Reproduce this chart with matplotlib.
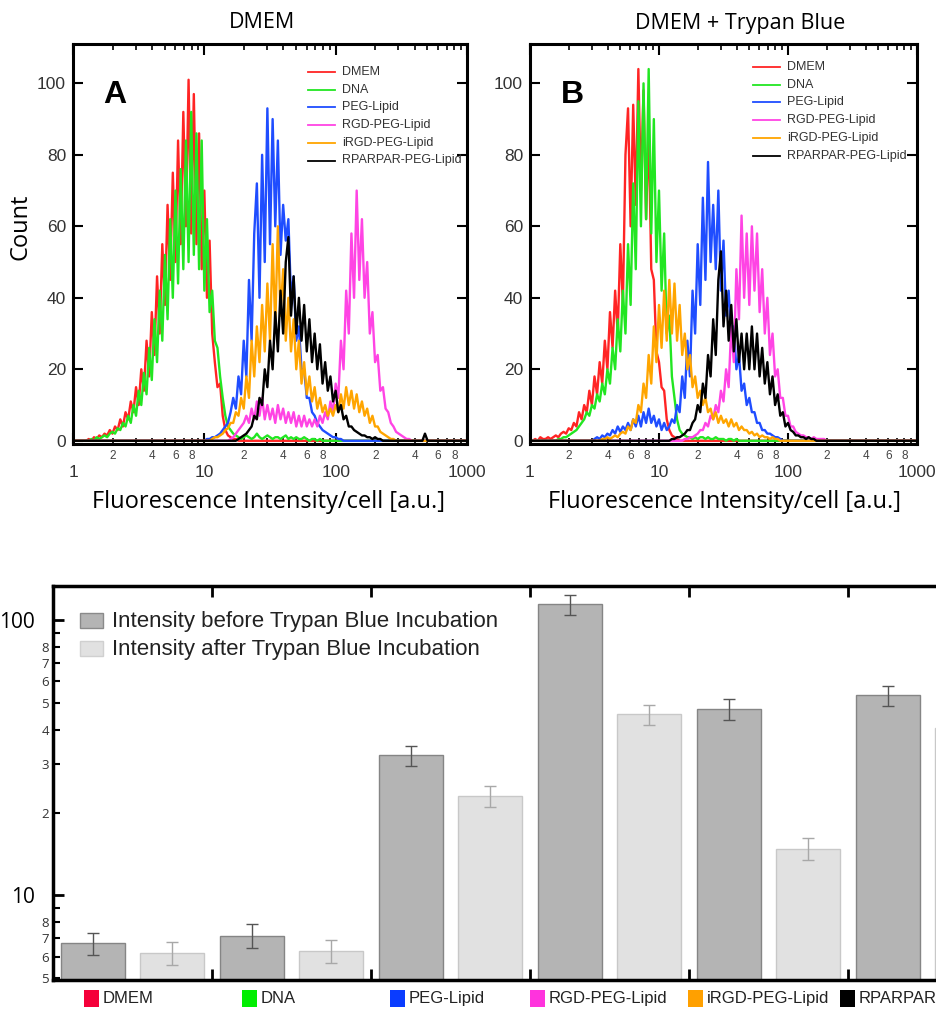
import numpy as np
import matplotlib.pyplot as plt
from matplotlib.ticker import FixedLocator, FuncFormatter, NullFormatter
from matplotlib.patches import Rectangle
from matplotlib.lines import Line2D

W, H = 936, 1009

# ---- data ----
names = ['DMEM', 'DNA', 'PEG-Lipid', 'RGD-PEG-Lipid', 'iRGD-PEG-Lipid', 'RPARPAR-PEG-Lipid']
line_colors = ['#ff2424', '#22e622', '#1f4dff', '#ff44e4', '#ffa500', '#000000']
square_colors = ['#f5003a', '#00ee00', '#0a3cff', '#ff33dd', '#ffa000', '#000000']

# histograms: log10 bin width, start of each curve (log10 of intensity) and counts
step = 0.02

a_dmem_start = 0.12
a_dmem = [0.5, 0, 1, 0.5, 1.5, 1, 2, 1.5, 3, 2,
          4, 3, 6, 4, 8, 6, 11, 8, 15, 10,
          20, 14, 28, 18, 36, 24, 46, 30, 55, 38,
          66, 45, 75, 50, 84, 55, 92, 60, 101, 58,
          97, 55, 86, 48, 70, 40, 56, 30, 22, 15,
          16, 7, 3, 1.5, 1, 0.5, 0.5, 0]
a_dna_start = 0.12
a_dna = [0, 0.5, 0, 1, 0.5, 1, 1.5, 1, 2, 2.5,
         2, 3.5, 3, 5, 4, 7, 5, 10, 7, 14,
         10, 19, 13, 26, 17, 34, 22, 42, 28, 52,
         34, 62, 40, 70, 44, 76, 48, 84, 50, 92,
         52, 86, 48, 84, 42, 62, 36, 42, 28, 26,
         18, 12, 7, 4, 3, 2, 1.5, 1, 0.5, 1,
         1.5, 1, 0.5, 1, 2, 1, 0.5, 1, 1.5, 1,
         0.5, 1, 1, 0.5, 1, 1.5, 0.5, 1, 0.5, 1,
         0.5, 0.5, 1, 0.5, 0, 0.5, 0.5, 0, 0.5, 0]
a_peg_start = 1.00
a_peg = [0, 0.5, 0.5, 1, 1, 1.5, 2, 3, 4, 5,
         8, 12, 9, 18, 13, 28, 18, 45, 28, 58,
         72, 40, 80, 50, 93, 55, 90, 60, 84, 52,
         66, 56, 62, 40, 46, 28, 32, 20, 20, 12,
         12, 8, 7, 5, 4, 3, 2.5, 2, 1.5, 1,
         1, 0.5, 0.5, 0]
a_rgd_start = 1.20
a_rgd = [0.5, 1, 2, 3, 4, 5, 7, 5, 9, 6,
         11, 7, 12, 6, 10, 6, 9, 5, 10, 6,
         9, 5, 8, 5, 8, 4, 7, 4, 7, 4,
         6, 4, 6, 4, 7, 5, 8, 6, 11, 8,
         16, 12, 28, 20, 42, 30, 58, 40, 70, 45,
         62, 40, 50, 30, 36, 22, 24, 14, 15, 9,
         8, 5, 4, 2.5, 2, 1.5, 1, 0.5, 0.5, 0]
a_irgd_start = 1.04
a_irgd = [0, 0.5, 1, 1, 1.5, 2, 3, 3.5, 5, 5,
          8, 7, 12, 9, 18, 12, 28, 18, 32, 22,
          38, 25, 44, 28, 55, 32, 60, 35, 48, 28,
          40, 25, 34, 20, 28, 16, 22, 13, 18, 11,
          15, 9, 12, 8, 10, 7, 9, 7, 10, 8,
          13, 9, 15, 10, 14, 9, 13, 8, 11, 7,
          9, 5, 7, 4, 4, 2.5, 2, 1.5, 1, 0.5,
          0.5, 0]
a_rpar_start = 1.26
a_rpar = [0.5, 1, 1.5, 2, 3, 4, 7, 6, 12, 10,
          20, 15, 28, 20, 36, 25, 42, 30, 50, 57,
          35, 46, 30, 40, 28, 38, 25, 34, 22, 30,
          20, 27, 16, 22, 14, 18, 11, 14, 8, 10,
          6, 7, 4, 4, 3, 2.5, 2, 1.5, 1.5, 1,
          1, 0.5, 1, 0.5, 0.5, 0, 0, 0, 0, 0,
          0, 0, 0, 0, 0, 0, 0, 0, 0, 0,
          0, 2, 0]

b_dmem_start = 0.04
b_dmem = [0.5, 0, 1, 0.5, 0.5, 1, 0.5, 1, 1.5, 1,
          2, 2.5, 2, 3.5, 3, 5, 4, 8, 6, 10,
          8, 14, 10, 18, 13, 22, 16, 28, 20, 36,
          26, 42, 30, 55, 38, 80, 93, 60, 94, 66,
          104, 70, 98, 62, 88, 48, 45, 25, 22, 15,
          14, 6, 3, 1.5, 1, 0.5, 0]
b_dna_start = 0.20
b_dna = [0, 0.5, 0.5, 1, 1, 1.5, 2, 2.5, 3, 4,
         5, 6, 8, 7, 10, 9, 13, 11, 16, 13,
         20, 16, 26, 20, 34, 25, 42, 30, 55, 38,
         72, 48, 95, 60, 100, 62, 104, 58, 90, 50,
         70, 42, 58, 30, 35, 18, 12, 6, 3, 2,
         1.5, 1, 1, 0.5, 1, 0.5, 1, 1, 0.5, 1,
         0.5, 0.5, 1, 0.5, 0.5, 0.5, 0, 0.5, 0.5, 0,
         0.5, 0]
b_peg_start = 0.50
b_peg = [0.5, 1, 0.5, 1.5, 1, 2, 1.5, 3, 2, 4,
         2.5, 4, 3, 5, 3, 6, 4, 7, 4, 8,
         5, 9, 5, 7, 4, 6, 3, 5, 3, 4,
         6, 5, 10, 8, 18, 12, 28, 18, 42, 30,
         55, 38, 68, 45, 78, 50, 66, 48, 70, 42,
         56, 35, 42, 28, 32, 20, 24, 14, 16, 10,
         12, 8, 8, 5, 5, 3, 3, 2, 2, 1.5,
         1, 1, 0.5, 0]
b_rgd_start = 1.20
b_rgd = [0.5, 0.5, 1, 1, 1.5, 2, 3, 3, 5, 4,
         7, 6, 10, 8, 14, 11, 20, 15, 32, 22,
         48, 34, 63, 40, 58, 38, 60, 42, 58, 36,
         48, 30, 40, 24, 30, 18, 20, 12, 12, 7,
         7, 4, 4, 2.5, 2, 1.5, 1.5, 1, 1, 0.5,
         1, 0.5, 0.5, 0.5, 0.5, 0]
b_irgd_start = 0.56
b_irgd = [0.5, 0.5, 1, 0.5, 1, 1.5, 1, 2, 2.5, 2,
          4, 3, 6, 5, 10, 8, 16, 12, 24, 16,
          32, 22, 38, 26, 42, 28, 45, 30, 44, 28,
          38, 24, 30, 20, 24, 15, 18, 12, 14, 10,
          12, 8, 9, 6, 8, 5, 7, 5, 6, 4,
          6, 4, 5, 3, 4, 3, 3, 2, 2.5, 1.5,
          2, 1, 1.5, 1, 1, 0.5, 1, 0.5, 0.5, 0]
b_rpar_start = 1.10
b_rpar = [0.5, 0.5, 1, 1, 1.5, 2, 3, 3, 5, 6,
          10, 8, 16, 12, 24, 18, 34, 24, 45, 53,
          32, 42, 28, 38, 25, 34, 22, 30, 20, 30,
          20, 32, 20, 30, 18, 26, 16, 22, 13, 18,
          10, 13, 7, 8, 4, 5, 3, 2.5, 1.5, 1.5,
          1, 1, 0.5, 1, 0.5, 0.5, 0]

# bar chart: mean intensity per cell and error
before = [6.7, 7.15, 32.3, 114, 47.5, 53.3]
before_err = [0.6, 0.7, 2.7, 9.5, 4.2, 4.5]
after = [6.2, 6.3, 22.9, 45.5, 14.8, 40.5]
after_err = [0.6, 0.6, 2.0, 3.8, 1.4, 3.5]

sans = ['Liberation Sans', 'DejaVu Sans']
title_font = ['Open Sans', 'DejaVu Sans']


def box(l, t, r, b):
    return [l / W, 1 - b / H, (r - l) / W, (b - t) / H]


def fx(px):
    return px / W


def fy(py):
    return 1 - py / H


grid = np.arange(0, 3.0001, step)


def full_curve(start, vals):
    y = np.zeros(len(grid))
    i0 = int(round(start / step))
    y[i0:i0 + len(vals)] = vals
    return 10 ** grid, y


def minor_lab(v, p):
    d = int(round(v / 10 ** np.floor(np.log10(v) + 1e-9)))
    return str(d) if d in (2, 4, 6, 8) else ''


fig = plt.figure(figsize=(W / 100, H / 100), dpi=100)


def hist_panel(rect, curves, letter, letter_x, title, title_x, leg_x, leg_y0):
    ax = fig.add_axes(rect)
    for (start, vals), c in zip(curves, line_colors):
        x, y = full_curve(start, vals)
        ax.plot(x, y, color=c, lw=1.7)
    ax.set_xscale('log')
    ax.set_xlim(1, 1000)
    ax.set_ylim(-0.9, 111)
    ax.xaxis.set_major_locator(FixedLocator([1, 10, 100, 1000]))
    ax.xaxis.set_major_formatter(FuncFormatter(lambda v, p: '%d' % v))
    ax.xaxis.set_minor_locator(FixedLocator([m * 10 ** d for d in range(3) for m in range(2, 10)]))
    ax.xaxis.set_minor_formatter(FuncFormatter(minor_lab))
    ax.set_yticks([0, 20, 40, 60, 80, 100])
    ax.tick_params(which='both', direction='in', top=True, right=True)
    ax.tick_params(axis='x', which='major', length=8, width=1.5, pad=15, labelsize=12.5, labelcolor='#333')
    ax.tick_params(axis='x', which='minor', length=4, width=1.2, pad=4, labelsize=8.5, labelcolor='#444')
    ax.tick_params(axis='y', which='major', length=7, width=1.5, pad=5, labelsize=12.5, labelcolor='#333')
    for lab in ax.get_xticklabels(which='both') + ax.get_yticklabels():
        lab.set_family(sans)
    for s in ax.spines.values():
        s.set_linewidth(2.2)
    fig.text(fx(letter_x), fy(95), letter, fontsize=23, fontweight='bold', family=sans,
             ha='center', va='center')
    fig.text(fx(title_x), fy(23), title, fontsize=15.5, family=title_font, ha='center', va='center')
    for i, (n, c) in enumerate(zip(names, line_colors)):
        yy = fy(leg_y0 + i * 17.7)
        fig.add_artist(Line2D([fx(leg_x), fx(leg_x + 27)], [yy, yy], color=c, lw=1.3))
        fig.text(fx(leg_x + 34), yy, n, fontsize=9, family=sans, color='#333', va='center')
    return ax


hist_panel(box(73, 44, 467, 444),
           [(a_dmem_start, a_dmem), (a_dna_start, a_dna), (a_peg_start, a_peg),
            (a_rgd_start, a_rgd), (a_irgd_start, a_irgd), (a_rpar_start, a_rpar)],
           'A', 115, 'DMEM', 262, 308, 72)
hist_panel(box(530, 44, 917, 444),
           [(b_dmem_start, b_dmem), (b_dna_start, b_dna), (b_peg_start, b_peg),
            (b_rgd_start, b_rgd), (b_irgd_start, b_irgd), (b_rpar_start, b_rpar)],
           'B', 572, 'DMEM + Trypan Blue', 740, 753, 67)

fig.text(fx(20), fy(227), 'Count', rotation=90, fontsize=17, family=title_font, ha='center', va='center')
fig.text(fx(268), fy(502), 'Fluorescence Intensity/cell [a.u.]', fontsize=17, family=title_font,
         ha='center', va='center')
fig.text(fx(725), fy(502), 'Fluorescence Intensity/cell [a.u.]', fontsize=17, family=title_font,
         ha='center', va='center')

# ---- bar chart (runs past the right edge like the source crop) ----
ax3 = fig.add_axes(box(53, 586, 53 + 6 * 159, 980))
idx = np.arange(len(names))
base = 1.0
ax3.bar(idx + 0.25, np.array(before) - base, 0.40, bottom=base, yerr=before_err, color='#b4b4b4',
        edgecolor='#858585', lw=1, error_kw=dict(ecolor='#555555', elinewidth=1, capsize=4, capthick=1))
ax3.bar(idx + 0.75, np.array(after) - base, 0.40, bottom=base, yerr=after_err, color='#e1e1e1',
        edgecolor='#c8c8c8', lw=1, error_kw=dict(ecolor='#a8a8a8', elinewidth=1, capsize=4, capthick=1))
ax3.set_yscale('log')
ax3.set_ylim(4.93, 133)
ax3.set_xlim(0, 6)
ax3.xaxis.set_major_locator(FixedLocator([1, 2, 3, 4, 5]))
ax3.xaxis.set_major_formatter(NullFormatter())
ax3.yaxis.set_major_locator(FixedLocator([10, 100]))
ax3.yaxis.set_major_formatter(FuncFormatter(lambda v, p: '%d' % v))
ax3.yaxis.set_minor_locator(FixedLocator([5, 6, 7, 8, 9] + [m * 10 for m in range(2, 10)]))
ax3.yaxis.set_minor_formatter(FuncFormatter(
    lambda v, p: '' if round(v / 10 ** np.floor(np.log10(v) + 1e-9)) == 9
    else str(int(round(v / 10 ** np.floor(np.log10(v) + 1e-9))))))
ax3.tick_params(axis='x', which='major', direction='in', top=True, bottom=True, length=8, width=2)
ax3.tick_params(axis='y', which='major', direction='in', length=8, width=2, pad=13, labelsize=15)
ax3.tick_params(axis='y', which='minor', direction='in', length=5, width=1.5, pad=3, labelsize=9.5,
                labelcolor='#333')
for lab in ax3.get_yticklabels(which='both'):
    lab.set_family(title_font)
for s in ax3.spines.values():
    s.set_linewidth(2.5)

# series legend
fig.add_artist(Rectangle((fx(80), fy(628)), fx(103) - fx(80), fy(613) - fy(628),
                         facecolor='#b4b4b4', edgecolor='#8a8a8a', lw=1, transform=fig.transFigure))
fig.add_artist(Rectangle((fx(80), fy(656)), fx(103) - fx(80), fy(641) - fy(656),
                         facecolor='#e1e1e1', edgecolor='#d0d0d0', lw=1, transform=fig.transFigure))
fig.text(fx(112), fy(621), 'Intensity before Trypan Blue Incubation', fontsize=16, family=sans,
         color='#222', va='center')
fig.text(fx(112), fy(649), 'Intensity after Trypan Blue Incubation', fontsize=16, family=sans,
         color='#222', va='center')

# category legend under the bars
cat_x = [84, 242, 390, 530, 688, 840]
for px, n, c in zip(cat_x, names, square_colors):
    fig.add_artist(Rectangle((fx(px), fy(1007)), fx(15), fy(990) - fy(1007), facecolor=c,
                             edgecolor='none', transform=fig.transFigure))
    fig.text(fx(px + 19), fy(998.5), n, fontsize=12, family=sans, color='#222', va='center')

fig.savefig('out.png', dpi=100)
